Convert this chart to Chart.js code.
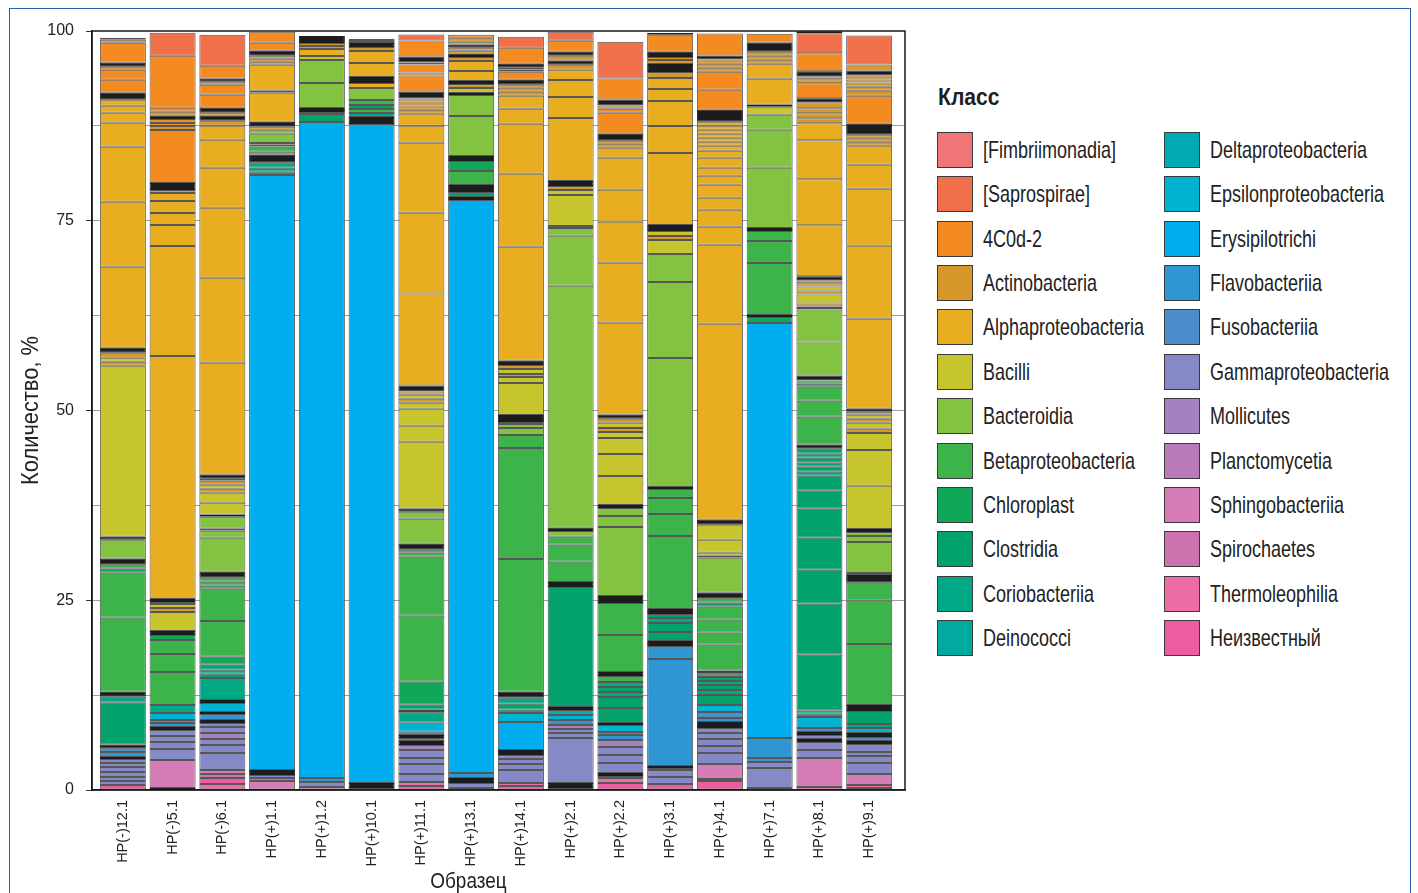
<!DOCTYPE html>
<html>
<head>
<meta charset="utf-8">
<script src="https://cdn.jsdelivr.net/npm/chart.js@4.4.1/dist/chart.umd.min.js"></script>
<style>
  html, body { margin: 0; padding: 0; background: #fff; }
  #page { position: relative; width: 1418px; height: 893px; overflow: hidden; background: #fff; }
  #frame { position: absolute; left: 9px; top: 8px; width: 1402px; height: 910px;
           border: 1.5px solid #2c5fa6; box-sizing: border-box; pointer-events: none; }
  #plot { position: absolute; left: 0; top: 0; width: 925px; height: 893px; }
  #legendTitle { position: absolute; left: 938px; top: 81px; font: bold 24px/32px 'Liberation Sans', Arial, sans-serif;
                 color: #1e1e1e; transform: scaleX(0.88); transform-origin: left center; white-space: nowrap; }
  #legend { position: absolute; left: 937px; top: 132px; display: grid;
            grid-template-columns: 227px 227px; grid-template-rows: repeat(12, 44.36px);
            grid-auto-flow: column; }
  .item { display: flex; align-items: flex-start; }
  .swatch { width: 36px; height: 36px; box-sizing: border-box; border: 1px solid #3a3a3a; flex: none; }
  .label { display: inline-block; margin-left: 10px; line-height: 36px; font-size: 24px; color: #222;
           white-space: nowrap; font-family: 'Liberation Sans', Arial, sans-serif;
           transform: scaleX(0.75); transform-origin: left center; }
</style>
</head>
<body>
<div id="page">
  <div id="plot"><canvas id="chart"></canvas></div>
  <div id="legendTitle">Класс</div>
  <div id="legend"></div>
  <div id="frame"></div>
</div>
<script>
// Sample names along the x axis
const sampleLabels = ['HP(-)12.1', 'HP(-)5.1', 'HP(-)6.1', 'HP(+)1.1', 'HP(+)1.2', 'HP(+)10.1',
  'HP(+)11.1', 'HP(+)13.1', 'HP(+)14.1', 'HP(+)2.1', 'HP(+)2.2', 'HP(+)3.1', 'HP(+)4.1',
  'HP(+)7.1', 'HP(+)8.1', 'HP(+)9.1'];

// Bacterial classes (legend order) and their short codes
const classNames = ['[Fimbriimonadia]', '[Saprospirae]', '4C0d-2', 'Actinobacteria',
  'Alphaproteobacteria', 'Bacilli', 'Bacteroidia', 'Betaproteobacteria', 'Chloroplast',
  'Clostridia', 'Coriobacteriia', 'Deinococci', 'Deltaproteobacteria', 'Epsilonproteobacteria',
  'Erysipilotrichi', 'Flavobacteriia', 'Fusobacteriia', 'Gammaproteobacteria', 'Mollicutes',
  'Planctomycetia', 'Sphingobacteriia', 'Spirochaetes', 'Thermoleophilia', 'Неизвестный'];
const classCodes = ['FI', 'SA', 'C4', 'AC', 'AL', 'BA', 'BD', 'BE', 'CH', 'CL', 'CO', 'DE',
  'DL', 'EP', 'ER', 'FL', 'FU', 'GA', 'MO', 'PL', 'SP', 'SC', 'TH', 'UN'];
const classColors = ['#F07577', '#F0704C', '#F38B21', '#D89729', '#E9AD22', '#C7C52D',
  '#84C341', '#3CB44A', '#10A858', '#03A26B', '#00A886', '#00AA9E', '#00ABB4', '#00B3D2',
  '#00AEEF', '#2F95D3', '#4C8DCB', '#8589C5', '#A283C0', '#B97BBA', '#D67CB6', '#CE73B0',
  '#EE6CA6', '#EC5CA0'];
// 'K' marks runs of very small OTUs that show up as dark bands
const rareColor = '#1c1c1c';

// OTU segments per sample, bottom to top: [class code, relative abundance %]
const hpM12_1 = [['UN',0.66],['GA',0.53],['GA',0.53],['GA',0.66],['GA',0.66],['GA',0.53],['GA',0.53],
  ['K',0.26],['FL',0.66],['FU',0.4],['K',0.53],['CL',5.53],['CO',0.79],['K',0.66],['BE',9.75],['BE',5.93],
  ['CH',0.53],['BE',0.53],['K',0.79],['BD',2.5],['K',0.4],['BA',22.53],['AC',0.53],['BA',0.53],['AC',0.66],
  ['K',0.66],['AL',10.67],['AL',8.56],['AL',7.25],['AL',3.16],['AL',1.32],['AL',0.92],['AL',0.79],['K',0.92],
  ['C4',1.71],['C4',1.32],['C4',0.4],['K',0.53],['C4',2.64],['C4',0.4],['SA',0.26]];
const hpM5_1 = [['K',0.26],['SP',3.69],['GA',1.45],['GA',0.92],['GA',0.79],['GA',0.79],['K',0.4],['FL',0.53],
  ['FU',0.4],['EP',0.92],['CO',1.05],['BE',4.35],['BE',2.37],['BE',1.84],['CH',0.66],['K',0.53],['BA',2.5],
  ['AC',0.53],['BA',0.53],['AC',0.26],['K',0.4],['AL',32.02],['AL',14.49],['AL',2.77],['AL',1.58],['AL',1.58],
  ['AL',1.05],['AC',0.4],['K',0.92],['C4',6.98],['AC',0.53],['C4',0.4],['AC',0.53],['K',0.4],['AC',0.53],
  ['C4',0.53],['C4',6.85],['SA',3.03]];
const hpM6_1 = [['TH',0.79],['UN',0.79],['SC',0.53],['SP',0.53],['GA',2.24],['GA',1.05],['GA',0.79],['MO',0.79],
  ['GA',0.79],['GA',0.53],['K',0.4],['FL',0.79],['K',0.26],['EP',1.19],['K',0.4],['CO',2.9],['CL',0.53],
  ['CO',0.53],['CL',0.66],['CH',1.05],['BE',4.74],['BE',4.22],['CH',0.4],['BE',0.53],['BE',0.53],['K',0.79],
  ['BD',4.48],['BD',0.92],['BD',0.26],['BD',1.58],['K',0.26],['BA',1.58],['BA',1.32],['AC',0.53],['BA',0.53],
  ['AC',0.53],['AC',0.26],['K',0.53],['AL',14.76],['AL',11.2],['AL',9.22],['AL',5.27],['AL',3.69],['AL',1.84],
  ['AC',0.66],['K',0.66],['AC',0.4],['K',0.66],['C4',1.71],['C4',1.32],['AC',0.4],['K',0.4],['C4',1.71],
  ['SA',4.08]];
const hpP1_1 = [['SP',1.19],['GA',0.4],['GA',0.4],['K',0.66],['ER',78.39],['CO',0.4],['CL',0.53],['CO',0.66],
  ['K',1.05],['BE',0.4],['BE',0.66],['CL',0.26],['BE',0.26],['BD',1.19],['BD',0.53],['AC',0.4],['K',0.66],
  ['AL',3.82],['AL',0.26],['AL',3.43],['AC',0.4],['AC',0.4],['AC',0.4],['K',0.66],['C4',1.05],['C4',1.45]];
const hpP1_2 = [['SP',0.4],['GA',0.66],['FL',0.53],['ER',86.43],['CL',1.05],['CO',0.26],['K',0.53],['BD',3.29],
  ['BD',3.03],['BA',0.53],['AL',0.92],['AC',0.4],['AC',0.4],['K',0.92]];
const hpP10_1 = [['SP',0.26],['K',0.66],['ER',86.82],['K',0.92],['CO',0.53],['BE',0.53],['CL',0.53],['BE',0.66],
  ['BD',1.58],['AL',0.66],['K',0.79],['AL',1.84],['AL',1.58],['AC',0.53],['K',0.53],['AC',0.26],['SA',0.26]];
const hpP11_1 = [['UN',0.53],['TH',0.53],['GA',1.05],['GA',1.32],['GA',0.79],['GA',1.05],['MO',0.66],['K',0.53],
  ['FL',0.4],['K',0.4],['FU',0.4],['EP',1.19],['CO',1.32],['K',0.4],['CL',0.66],['CH',3.03],['BE',8.7],
  ['BE',7.77],['BE',0.53],['CH',0.4],['K',0.79],['BD',3.29],['BD',0.92],['K',0.4],['BA',8.83],['BA',2.11],
  ['BA',2.24],['BA',0.79],['AC',0.53],['BA',0.53],['AC',0.4],['K',0.79],['AL',12.12],['AL',10.67],['AL',9.22],
  ['AL',2.24],['AL',1.58],['AC',0.53],['AC',0.53],['AC',0.53],['AC',0.4],['K',0.92],['C4',2.11],['AC',0.4],
  ['C4',1.05],['C4',0.26],['K',0.79],['C4',2.11],['SA',0.79]];
const hpP13_1 = [['GA',0.26],['GA',0.66],['K',0.66],['FL',0.66],['ER',75.49],['K',0.4],['CL',0.66],['K',0.92],
  ['BE',1.84],['CH',1.32],['K',0.66],['BD',5.27],['BD',2.77],['K',0.26],['BA',0.66],['AC',0.53],['K',0.4],
  ['AL',1.32],['AL',1.32],['AC',0.53],['K',0.4],['AC',0.4],['AC',0.4],['K',0.4],['AC',0.4],['AC',0.53],
  ['C4',0.4]];
const hpP14_1 = [['UN',0.53],['TH',0.4],['GA',1.71],['GA',0.79],['GA',0.66],['GA',0.53],['K',0.66],['ER',3.69],
  ['EP',1.19],['CO',0.4],['CL',0.79],['CO',0.79],['K',0.79],['BE',17.52],['BE',14.62],['BE',1.71],['BD',0.92],
  ['BD',0.53],['CL',0.26],['K',0.92],['BA',4.22],['BA',0.79],['AC',0.4],['BA',0.66],['AC',0.53],['K',0.53],
  ['AL',15.02],['AL',9.62],['AL',6.59],['AL',1.98],['AL',1.71],['AC',0.53],['AC',0.53],['AC',0.4],['K',0.66],
  ['C4',1.05],['AC',0.26],['C4',0.26],['K',0.53],['C4',2.11],['SA',1.45]];
const hpP2_1 = [['UN',0.26],['K',0.66],['GA',5.93],['GA',0.66],['GA',0.53],['MO',0.53],['FL',0.66],['EP',0.66],
  ['DL',0.66],['K',0.4],['CL',15.81],['K',0.66],['BE',2.64],['BE',2.24],['BE',1.05],['BD',0.79],['K',0.4],
  ['BD',31.88],['BD',6.59],['BD',1.05],['BA',0.26],['BA',4.08],['BA',0.66],['AC',0.53],['K',0.66],['AL',8.3],
  ['AL',2.77],['AL',2.24],['AL',1.32],['AC',0.66],['K',0.53],['AC',0.66],['K',0.53],['C4',1.45],['SA',1.19]];
const hpP2_2 = [['UN',0.92],['TH',0.66],['SP',0.26],['K',0.4],['GA',1.32],['GA',1.05],['GA',1.05],['MO',0.92],
  ['FL',0.66],['FU',0.4],['EP',0.92],['K',0.26],['CL',1.98],['CL',1.45],['CO',0.66],['CL',0.66],['CO',0.66],
  ['BE',0.79],['K',0.53],['BE',4.88],['BE',4.22],['K',0.92],['BD',9.09],['BD',1.45],['BD',1.05],['K',0.4],
  ['BA',3.82],['BA',2.9],['BA',2.11],['BA',0.79],['AC',0.53],['BA',0.66],['AC',0.53],['K',0.53],['AL',12.12],
  ['AL',7.91],['AL',5.4],['AL',4.22],['AL',4.22],['AL',1.32],['AC',0.53],['AC',0.4],['K',0.92],['C4',2.77],
  ['C4',0.53],['AC',0.4],['K',0.79],['C4',2.77],['SA',4.87]];
const hpP3_1 = [['UN',0.79],['GA',0.92],['GA',0.92],['MO',0.26],['K',0.26],['FL',14.1],['FL',1.71],['K',0.66],
  ['CL',1.19],['CL',1.19],['CO',0.66],['CL',0.53],['K',0.66],['BE',9.62],['BE',2.9],['BE',2.11],['BE',1.19],
  ['K',0.26],['BD',17.0],['BD',10.01],['BD',3.69],['BA',1.84],['AC',0.53],['BA',0.66],['K',0.79],['AL',9.49],
  ['AL',3.56],['AL',3.29],['AL',1.58],['AL',1.45],['AC',0.79],['K',1.05],['AC',0.53],['AC',0.4],['K',0.66],
  ['C4',2.24],['K',0.26]];
const hpP4_1 = [['UN',1.19],['SC',0.26],['SP',1.98],['GA',1.45],['GA',0.92],['GA',0.92],['GA',0.79],['GA',0.66],
  ['K',0.79],['FL',0.53],['FU',0.79],['EP',0.92],['CL',1.32],['CO',0.66],['CL',0.66],['CO',0.53],['CL',0.53],
  ['BE',0.4],['K',0.4],['BE',3.43],['BE',1.58],['BE',1.71],['BE',1.71],['CL',0.53],['BE',0.53],['K',0.79],
  ['BD',4.61],['AC',0.26],['BA',0.4],['BA',1.71],['BA',1.98],['K',0.66],['AL',25.82],['AL',10.41],['AL',2.37],
  ['AL',2.24],['AL',1.58],['AL',1.71],['AL',1.19],['AL',1.05],['AL',1.32],['AL',0.92],['AL',0.66],['AL',0.53],
  ['AL',0.53],['AL',0.53],['AL',0.53],['AL',0.53],['AL',0.53],['K',1.58],['C4',2.64],['C4',2.37],['AC',0.53],
  ['AC',0.53],['AC',0.53],['K',0.53],['C4',2.9]];
const hpP7_1 = [['GA',0.26],['GA',2.64],['GA',0.79],['FU',0.53],['FL',2.64],['ER',54.68],['CH',0.79],['K',0.26],
  ['BE',6.85],['BE',2.9],['BE',1.32],['K',0.4],['BD',7.91],['BD',5.01],['BD',1.98],['BA',1.05],['K',0.26],
  ['AL',3.43],['AL',1.98],['AC',0.53],['AC',0.53],['AC',0.53],['K',1.19],['C4',1.19]];
const hpP8_1 = [['UN',0.4],['SP',3.82],['GA',1.05],['GA',1.05],['K',0.4],['GA',0.53],['K',0.4],['FU',0.53],
  ['EP',1.45],['CO',0.4],['CO',0.4],['CL',7.38],['CL',6.72],['CL',4.48],['CL',4.22],['CL',3.82],['CL',2.37],
  ['CL',1.98],['CO',0.53],['CL',0.66],['CO',0.53],['CL',0.66],['CO',0.53],['CL',0.66],['K',0.53],['BE',3.69],
  ['BE',2.11],['BE',1.84],['CL',0.4],['BE',0.4],['K',0.66],['BD',4.48],['BD',4.22],['K',0.4],['AC',0.4],
  ['BA',1.19],['AC',0.53],['BA',0.53],['AC',0.4],['AC',0.4],['K',0.53],['AL',6.72],['AL',6.06],['AL',5.14],
  ['AL',2.24],['AC',0.66],['AC',0.66],['AC',0.66],['AC',0.79],['K',0.53],['C4',1.98],['AC',0.53],['AC',0.4],
  ['K',0.66],['C4',2.37],['SA',2.64],['K',0.26]];
const hpP9_1 = [['UN',0.26],['TH',0.4],['SP',1.45],['GA',1.45],['GA',0.92],['GA',0.53],['GA',1.05],['K',0.4],
  ['FU',0.53],['K',0.53],['EP',0.66],['CO',0.53],['CL',1.71],['K',0.79],['BE',8.04],['BE',5.67],['BE',2.37],
  ['K',1.05],['BD',0.26],['BD',4.08],['BD',0.79],['BD',0.53],['K',0.4],['BA',5.67],['BA',4.74],['BA',2.24],
  ['AC',0.53],['BA',0.79],['AC',0.53],['BA',0.53],['AC',0.4],['K',0.4],['AL',11.86],['AL',9.62],['AL',7.51],
  ['AL',3.16],['AL',2.5],['AC',0.53],['AC',0.53],['AC',0.4],['K',1.45],['C4',3.69],['AC',0.66],['AC',0.53],
  ['AC',0.53],['AC',0.4],['AC',0.53],['K',0.66],['AC',0.79],['SA',3.82]];

const samples = [hpM12_1, hpM5_1, hpM6_1, hpP1_1, hpP1_2, hpP10_1, hpP11_1, hpP13_1, hpP14_1,
  hpP2_1, hpP2_2, hpP3_1, hpP4_1, hpP7_1, hpP8_1, hpP9_1];

const SANS = "'Liberation Sans', Arial, sans-serif";

function colorOf(code) {
  if (code === 'K') return rareColor;
  return classColors[classCodes.indexOf(code)];
}

// One stacked dataset per segment level; each sample contributes its i-th OTU
const maxSegments = Math.max(...samples.map(s => s.length));
const datasets = [];
for (let i = 0; i < maxSegments; i++) {
  datasets.push({
    data: samples.map((s, j) => ({ x: j, y: s[i] ? s[i][1] : null })),
    backgroundColor: samples.map(s => s[i] ? colorOf(s[i][0]) : 'rgba(0,0,0,0)'),
    borderColor: samples.map(s => (s[i] && s[i][0] === 'K') ? rareColor : '#575757'),
    borderWidth: 1,
    borderSkipped: false,
    barPercentage: 0.925,
    categoryPercentage: 1,
    stack: 'otu'
  });
}

// Text squeezed horizontally to imitate a condensed typeface
function condensedText(ctx, text, x, y, size, squeeze, angle) {
  ctx.save();
  ctx.translate(x, y);
  ctx.rotate(angle);
  ctx.scale(squeeze, 1);
  ctx.font = size + 'px ' + SANS;
  ctx.fillStyle = '#222';
  ctx.textAlign = 'center';
  ctx.textBaseline = 'middle';
  ctx.fillText(text, 0, 0);
  ctx.restore();
}

// Black frame around the plotting area
const plotFrame = {
  id: 'plotFrame',
  afterDatasetsDraw(chart) {
    const { ctx, chartArea: a } = chart;
    ctx.save();
    ctx.strokeStyle = '#1a1a1a';
    ctx.lineWidth = 1.5;
    ctx.strokeRect(a.left, a.top, a.right - a.left, a.bottom - a.top);
    ctx.restore();
  }
};

// Axis captions
const axisCaptions = {
  id: 'axisCaptions',
  afterDraw(chart) {
    const { ctx, chartArea: a } = chart;
    condensedText(ctx, 'Образец', a.left + (a.right - a.left) * 0.463, chart.height - 11, 22, 0.86, 0);
    condensedText(ctx, 'Количество, %', 32, (a.top + a.bottom) / 2, 23, 0.95, -Math.PI / 2);
  }
};

// Legend built from the class list
const htmlLegend = {
  id: 'htmlLegend',
  afterUpdate() {
    const box = document.getElementById('legend');
    box.innerHTML = '';
    classNames.forEach((name, k) => {
      const item = document.createElement('div');
      item.className = 'item';
      const sw = document.createElement('div');
      sw.className = 'swatch';
      sw.style.background = classColors[k];
      const lab = document.createElement('span');
      lab.className = 'label';
      lab.textContent = name;
      item.appendChild(sw);
      item.appendChild(lab);
      box.appendChild(item);
    });
  }
};

new Chart(document.getElementById('chart'), {
  type: 'bar',
  data: { datasets },
  plugins: [plotFrame, axisCaptions, htmlLegend],
  options: {
    responsive: true,
    maintainAspectRatio: false,
    animation: false,
    layout: { padding: { top: 31, right: 20, left: 0, bottom: 0 } },
    plugins: { legend: { display: false }, tooltip: { enabled: false } },
    scales: {
      x: {
        type: 'linear',
        stacked: true,
        offset: false,
        min: -0.62,
        max: 15.72,
        grid: { display: false, drawTicks: false, offset: false },
        border: { display: true, color: '#1a1a1a', width: 1.5 },
        afterBuildTicks: scale => { scale.ticks = sampleLabels.map((_, i) => ({ value: i })); },
        afterFit: scale => { scale.height = 103; },
        ticks: {
          autoSkip: false,
          minRotation: 90,
          maxRotation: 90,
          padding: 10,
          color: '#222',
          font: { family: SANS, size: 14.5 },
          callback: v => sampleLabels[v]
        }
      },
      y: {
        stacked: true,
        min: 0,
        max: 100,
        afterFit: scale => { scale.width = 92; },
        border: { display: true, color: '#1a1a1a', width: 1.5 },
        grid: {
          color: c => (c.tick && (c.tick.value === 0 || c.tick.value === 100)) ? 'rgba(0,0,0,0)' : '#a0a0a0',
          tickColor: c => (c.tick && c.tick.value % 25 === 0) ? '#333' : 'rgba(0,0,0,0)',
          tickLength: 6,
          lineWidth: 1
        },
        ticks: {
          stepSize: 12.5,
          autoSkip: false,
          padding: 12,
          color: '#222',
          font: { family: SANS, size: 16 },
          callback: v => (v % 25 === 0 ? String(v) : '')
        }
      }
    }
  }
});
</script>
</body>
</html>
